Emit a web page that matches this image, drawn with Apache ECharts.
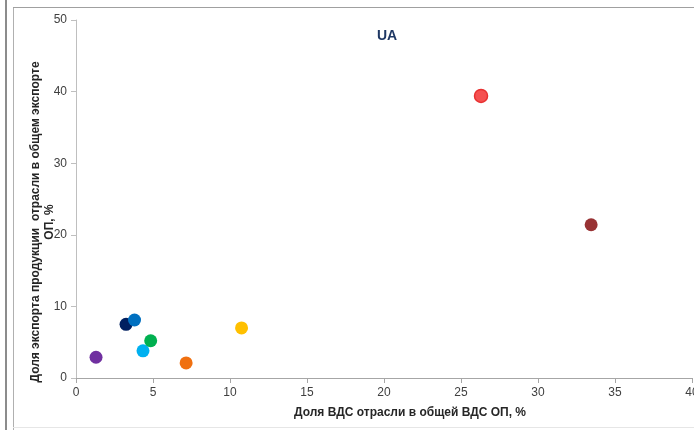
<!DOCTYPE html>
<html><head><meta charset="utf-8">
<script src="https://cdn.jsdelivr.net/npm/echarts@6/dist/echarts.min.js"></script>
<style>html,body{margin:0;padding:0;background:#fff}#c{width:694px;height:430px}</style>
</head><body><div id="c"></div>
<script>
const title = 'UA';
const xTitle = 'Доля ВДС отрасли в общей ВДС ОП, %';
const yTitle = 'Доля экспорта продукции  отрасли в общем экспорте\nОП, %';
const xShare = [1.3, 3.25, 3.8, 4.35, 4.85, 7.15, 10.75, 26.3, 33.45];
const yShare = [2.9, 7.5, 8.1, 3.8, 5.2, 2.1, 7.0, 39.4, 21.4];
const colors = ['#7030a0', '#002060', '#0070c0', '#00b0f0', '#00b050', '#f07010', '#ffc000', '#f55050', '#983234'];
const xTicks = [0, 5, 10, 15, 20, 25, 30, 35, 40];
const yTicks = [0, 10, 20, 30, 40, 50];

const chart = echarts.init(document.getElementById('c'), null, {renderer: 'canvas'});
const font = 'Liberation Sans, Arial, sans-serif';
chart.setOption({
  animation: false,
  backgroundColor: '#fff',
  grid: {left: 76, right: 2, top: 20, bottom: 52, containLabel: false, outerBoundsMode: 'none'},
  xAxis: {
    type: 'value', min: xTicks[0], max: xTicks[xTicks.length - 1], interval: 5,
    axisLine: {show: true, onZero: false, lineStyle: {color: '#a6a6a6', width: 1}},
    axisTick: {show: true, length: 5, lineStyle: {color: '#a6a6a6'}},
    axisLabel: {color: '#404040', fontSize: 12, fontFamily: font, margin: 9, showMaxLabel: true},
    splitLine: {show: false}
  },
  yAxis: {
    type: 'value', min: yTicks[0], max: yTicks[yTicks.length - 1], interval: 10,
    axisLine: {show: true, onZero: false, lineStyle: {color: '#bfbfbf', width: 1}},
    axisTick: {show: true, length: 5, lineStyle: {color: '#bfbfbf'}},
    axisLabel: {color: '#404040', fontSize: 12, fontFamily: font, margin: 9},
    splitLine: {show: false}
  },
  series: [{
    type: 'scatter',
    symbolSize: 13,
    data: xShare.map((x, i) => ({
      value: [x, yShare[i]],
      itemStyle: {opacity: 1, color: colors[i], borderColor: i === 7 ? '#e83030' : colors[i], borderWidth: i === 7 ? 1.5 : 0}
    }))
  }],
  graphic: [
    {type: 'rect', shape: {x: 5, y: 0, width: 2, height: 430}, style: {fill: '#8c8c8c'}, silent: true},
    {type: 'rect', shape: {x: 13, y: 7, width: 1, height: 423}, style: {fill: '#b0b0b0'}, silent: true},
    {type: 'rect', shape: {x: 13, y: 7, width: 681, height: 1}, style: {fill: '#a0a0a0'}, silent: true},
    {type: 'rect', shape: {x: 13, y: 427, width: 681, height: 1}, style: {fill: '#e6e6e6'}, silent: true},
    {type: 'text', left: 377, top: 29, style: {text: title, font: 'bold 14px ' + font, fill: '#1f3864'}, silent: true},
    {type: 'text', x: 410, y: 413, style: {text: xTitle, font: 'bold 12px ' + font, fill: '#262626', textAlign: 'center', textVerticalAlign: 'middle'}, silent: true},
    {type: 'text', x: 43, y: 222, rotation: Math.PI / 2, style: {text: yTitle, font: 'bold 12px ' + font, fill: '#262626', textAlign: 'center', textVerticalAlign: 'middle', lineHeight: 14}, silent: true}
  ]
});
</script></body></html>
